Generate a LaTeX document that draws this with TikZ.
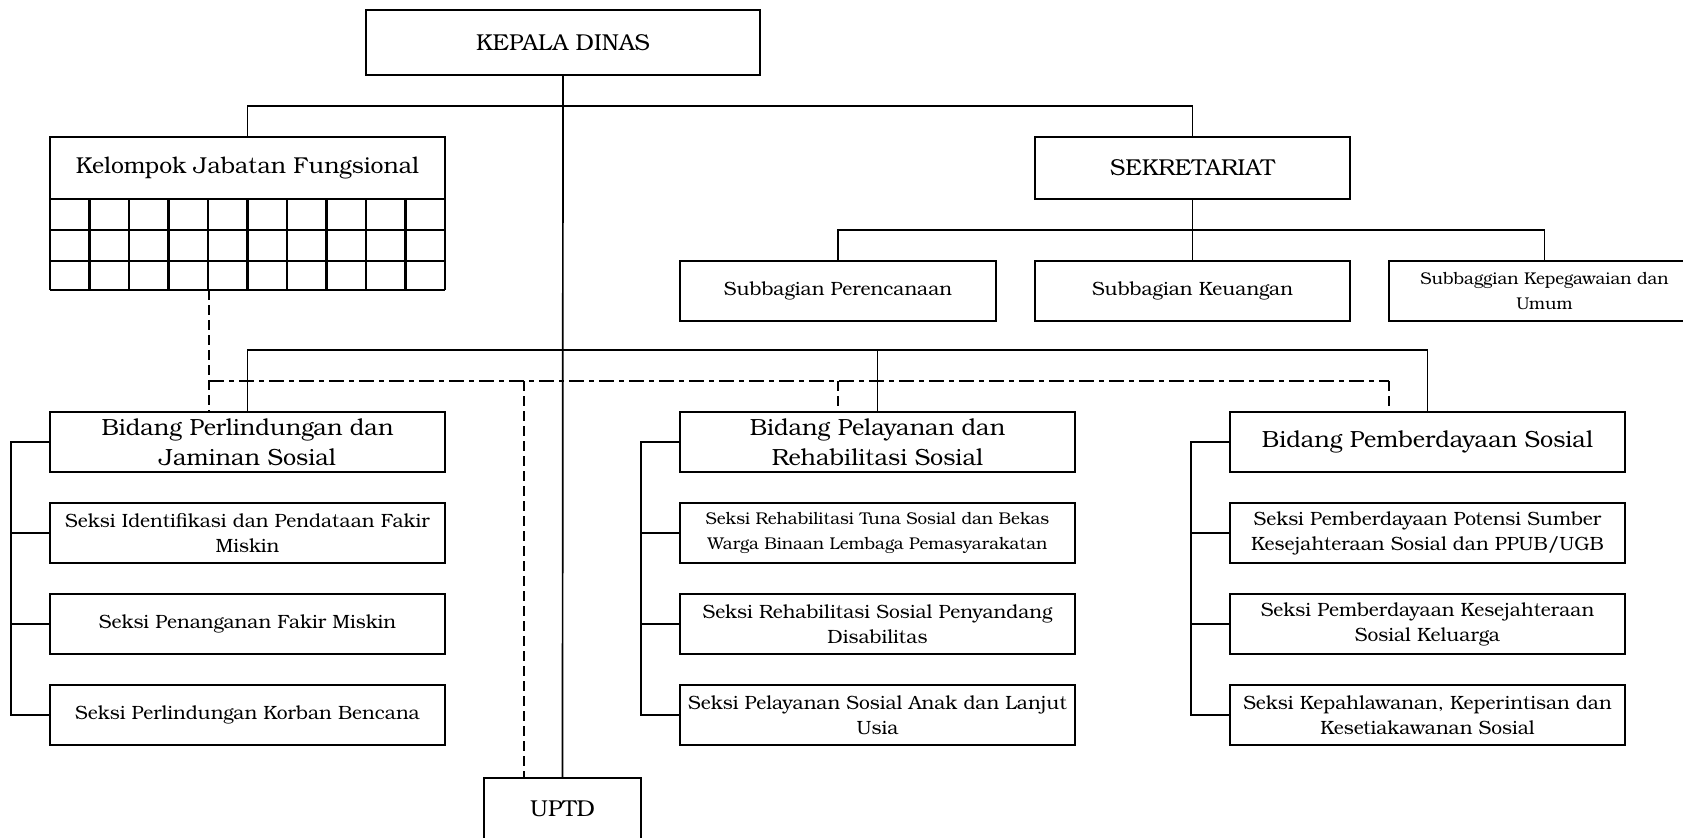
\documentclass[tikz,border=0pt]{standalone}
\usepackage{fontspec}
\setmainfont{TeX Gyre Bonum}
\begin{document}
\begin{tikzpicture}[x=0.5pt,y=-0.5pt,
  box/.style={draw,line width=1.1pt,inner sep=0pt,align=center},
  conn/.style={line width=0.85pt},
  dashv/.style={line width=0.85pt,dash pattern=on 5pt off 2.5pt},
  dashdotline/.style={line width=0.85pt,dash pattern=on 7.5pt off 2.5pt on 2.5pt off 2.5pt},
  fbig/.style={font=\fontsize{11.5}{14}\selectfont},
  fbid/.style={font=\fontsize{11.7}{15}\selectfont},
  fmid/.style={font=\fontsize{9.6}{12.5}\selectfont},
  fsmall/.style={font=\fontsize{8.5}{12.5}\selectfont}]
\clip (0,0) rectangle (1683,837);
\fill[white] (0,0) rectangle (1683,837);
% top
\node[box,fbig,minimum width=197pt,minimum height=32.5pt] (kd) at (563,42.5) {KEPALA DINAS};
\node[box,fbig,minimum width=197.5pt,minimum height=31pt] (kjf) at (247.5,168) {Kelompok Jabatan Fungsional};
\foreach \i in {0,...,10} \draw[line width=1.1pt] ({50+39.5*\i},199) -- ({50+39.5*\i},290);
\foreach \j in {230,261,290} \draw[line width=1.1pt] (50,\j) -- (445,\j);
\coordinate (kjfg) at (209,290);
\node[box,fbig,minimum width=157.5pt,minimum height=31pt] (sek) at (1192.5,168) {SEKRETARIAT};
% subbagian
\node[box,fmid,minimum width=158pt,minimum height=30pt] (sp) at (838,291) {Subbagian Perencanaan};
\node[box,fmid,minimum width=157.5pt,minimum height=30pt] (sk) at (1192.5,291) {Subbagian Keuangan};
\node[box,fsmall,minimum width=155.5pt,minimum height=30pt] (skp) at (1544.5,291) {Subbaggian Kepegawaian dan\\Umum};
% bidang
\node[box,fbid,minimum width=197.5pt,minimum height=30pt] (b1) at (247.5,442) {Bidang Perlindungan dan\\Jaminan Sosial};
\node[box,fbid,minimum width=197.5pt,minimum height=30pt] (b2) at (877.5,442) {Bidang Pelayanan dan\\Rehabilitasi Sosial};
\node[box,fbid,minimum width=197.5pt,minimum height=30pt] (b3) at (1427.5,442) {Bidang Pemberdayaan Sosial};
% seksi col 1
\node[box,fmid,minimum width=197.5pt,minimum height=30pt] (s11) at (247.5,533) {Seksi Identifikasi dan Pendataan Fakir\\Miskin};
\node[box,fmid,minimum width=197.5pt,minimum height=30pt] (s12) at (247.5,624) {Seksi Penanganan Fakir Miskin};
\node[box,fmid,minimum width=197.5pt,minimum height=30pt] (s13) at (247.5,715) {Seksi Perlindungan Korban Bencana};
% seksi col 2
\node[box,fsmall,minimum width=197.5pt,minimum height=30pt] (s21) at (877.5,533) {Seksi Rehabilitasi Tuna Sosial dan Bekas\\Warga Binaan Lembaga Pemasyarakatan};
\node[box,fmid,minimum width=197.5pt,minimum height=30pt] (s22) at (877.5,624) {Seksi Rehabilitasi Sosial Penyandang\\Disabilitas};
\node[box,fmid,minimum width=197.5pt,minimum height=30pt] (s23) at (877.5,715) {Seksi Pelayanan Sosial Anak dan Lanjut\\Usia};
% seksi col 3
\node[box,fmid,minimum width=197.5pt,minimum height=30pt] (s31) at (1427.5,533) {Seksi Pemberdayaan Potensi Sumber\\Kesejahteraan Sosial dan PPUB/UGB};
\node[box,fmid,minimum width=197.5pt,minimum height=30pt] (s32) at (1427.5,624) {Seksi Pemberdayaan Kesejahteraan\\Sosial Keluarga};
\node[box,fmid,minimum width=197.5pt,minimum height=30pt] (s33) at (1427.5,715) {Seksi Kepahlawanan, Keperintisan dan\\Kesetiakawanan Sosial};
% uptd
\node[box,fbig,minimum width=78.5pt,minimum height=31pt] (uptd) at (562.5,809) {UPTD};
% solid connectors
\draw[conn] (kd.south) -- (uptd.north);
\draw[conn] (kjf.north) -- (kjf.north |- 0,106) -- (sek.north |- 0,106) -- (sek.north);
\draw[conn] (sek.south) -- (sk.north);
\draw[conn] (sp.north) -- (sp.north |- 0,230) -- (skp.north |- 0,230) -- (skp.north);
\draw[conn] (b1.north) -- (b1.north |- 0,350) -- (b3.north |- 0,350) -- (b3.north);
\draw[conn] (b2.north |- 0,350) -- (b2.north);
\foreach \c in {1,2,3}{
  \draw[conn] (b\c.west) -- ++(-38,0) |- (s\c3.west);
  \draw[conn] (s\c1.west) -- ++(-38,0);
  \draw[conn] (s\c2.west) -- ++(-38,0);
}
% dashed connectors
\coordinate (dd) at (209,381);
\draw[dashv] (kjfg) -- (kjfg |- b1.north);
\draw[dashdotline] (dd) -- (1389,381);
\draw[dashv] (838,381) -- (838,412);
\draw[dashv] (1389,381) -- (1389,412);
\draw[dashv] (524,381) -- (524,778);
\end{tikzpicture}
\end{document}
